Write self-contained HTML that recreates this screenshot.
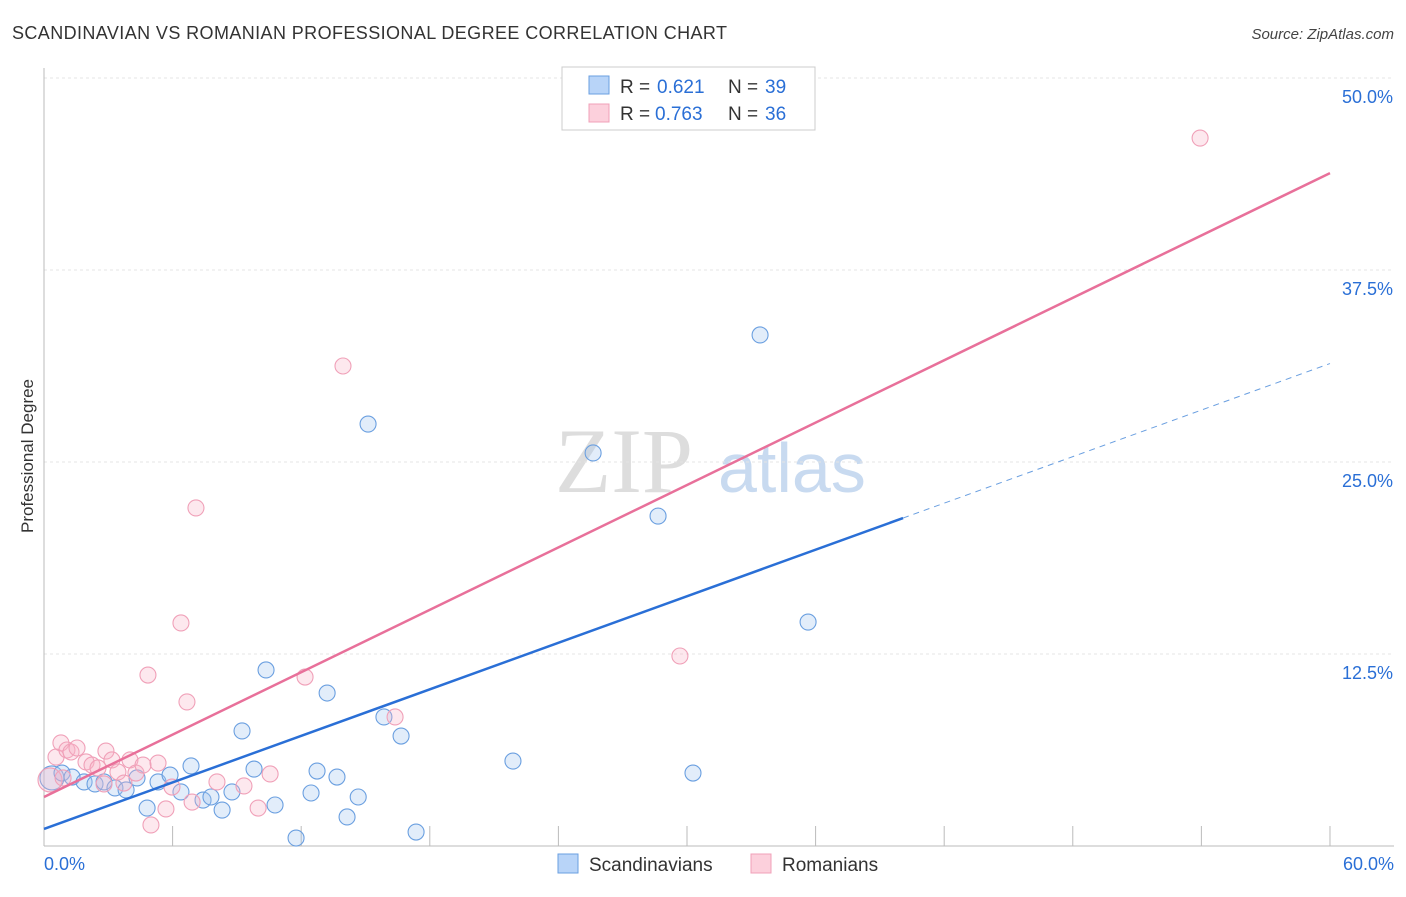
<!DOCTYPE html>
<html><head><meta charset="utf-8"><style>
body{margin:0;background:#fff;font-family:"Liberation Sans",sans-serif;}
</style></head><body>
<svg id="chart" width="1406" height="892" xmlns="http://www.w3.org/2000/svg" style="font-family:'Liberation Sans',sans-serif">
<text x="12" y="39" font-size="18" fill="#333" textLength="715">SCANDINAVIAN VS ROMANIAN PROFESSIONAL DEGREE CORRELATION CHART</text>
<text x="1394" y="39" font-size="15" fill="#444" text-anchor="end" font-style="italic">Source: ZipAtlas.com</text>
<text transform="translate(33,456) rotate(-90)" font-size="17" fill="#333" text-anchor="middle">Professional Degree</text>
<text x="555" y="492" font-size="92" fill="#ddd" font-family="Liberation Serif">ZIP</text>
<text x="718" y="492" font-size="70" fill="#c8daf0">atlas</text>
<g id="grid"></g>
<g id="marks"></g>
<g>
<rect x="562" y="67" width="253" height="63" fill="#fff" stroke="#ccc"/>
<rect x="589" y="76" width="20" height="18" fill="#b8d4f8" stroke="#6a9fe0"/>
<text x="620" y="93" font-size="19" fill="#333">R =</text>
<text x="657" y="93" font-size="19" fill="#2a6fd6">0.621</text>
<text x="728" y="93" font-size="19" fill="#333">N =</text>
<text x="765" y="93" font-size="19" fill="#2a6fd6">39</text>
<rect x="589" y="104" width="20" height="18" fill="#fcd0dc" stroke="#f0a0b8"/>
<text x="620" y="120" font-size="19" fill="#333">R =</text>
<text x="655" y="120" font-size="19" fill="#2a6fd6">0.763</text>
<text x="728" y="120" font-size="19" fill="#333">N =</text>
<text x="765" y="120" font-size="19" fill="#2a6fd6">36</text>
</g>
<g>
<rect x="558" y="854" width="20" height="19" fill="#b8d4f8" stroke="#6a9fe0"/>
<text x="589" y="871" font-size="19" fill="#333">Scandinavians</text>
<rect x="751" y="854" width="20" height="19" fill="#fcd0dc" stroke="#f0a0b8"/>
<text x="782" y="871" font-size="19" fill="#333">Romanians</text>
</g>
</svg>
<script>
const blueX=[0.37,0.84,1.31,1.87,2.38,2.80,3.31,3.83,4.34,4.81,5.32,5.88,6.39,6.86,7.42,7.79,8.31,8.77,9.24,9.80,10.36,10.78,11.76,12.46,12.74,13.21,13.67,14.14,14.66,15.12,15.86,16.66,17.36,21.88,25.62,28.65,30.28,33.41,35.65];
const blueY=[4.43,4.75,4.49,4.17,4.04,4.17,3.78,3.65,4.43,2.47,4.17,4.62,3.52,5.21,2.99,3.19,2.34,3.52,7.49,5.01,11.46,2.67,0.52,3.45,4.88,9.96,4.49,1.89,3.19,27.47,8.40,7.16,0.91,5.53,25.59,21.48,4.75,33.27,14.58];
const pinkX=[0.28,0.56,0.79,1.07,1.26,1.54,1.96,2.24,2.52,2.89,3.17,3.45,3.73,4.01,4.29,4.62,4.85,4.99,5.32,5.69,5.97,6.39,6.67,6.91,7.09,8.07,9.33,9.99,10.55,12.18,13.95,16.38,29.67,53.94,0.89,2.80];
const pinkY=[4.30,5.79,6.71,6.25,6.12,6.38,5.47,5.27,5.08,6.18,5.60,4.82,4.10,5.60,4.75,5.27,11.13,1.37,5.40,2.41,3.84,14.52,9.38,2.86,22.01,4.17,3.91,2.47,4.69,11.00,31.25,8.40,12.37,46.09,4.43,4.04];
const yTicks=[12.5,25,37.5,50];
const yTickLabels=["12.5%","25.0%","37.5%","50.0%"];
const xTicks=[6,12,18,24,30,36,42,48,54,60];
const blueLine=[1.11,0.505,40.08];
const pinkLine=[3.19,0.677];
const NS="http://www.w3.org/2000/svg";
const sx=v=>44+v*21.433, sy=v=>846-v*15.36;
function mk(t,a,p){const e=document.createElementNS(NS,t);for(const k in a)e.setAttribute(k,a[k]);p.appendChild(e);return e;}
const grid=document.getElementById('grid'), marks=document.getElementById('marks');
yTicks.forEach((t,i)=>{
 const l=mk('line',{x1:44,x2:1394,y1:sy(t),y2:sy(t),stroke:'#e4e4e4','stroke-dasharray':'3,3'},grid);
 
 
 const tx=mk('text',{x:1393,y:sy(t)+25,'font-size':18,fill:'#2a6fd6','text-anchor':'end'},grid);
 tx.textContent=yTickLabels[i];
 
 
});
const ax=mk('line',{x1:44,x2:44,y1:68,y2:846,stroke:'#bbb'},grid);


const bx=mk('line',{x1:44,x2:1394,y1:846,y2:846,stroke:'#bbb'},grid);


xTicks.forEach(t=>{const l=mk('line',{x1:sx(t),x2:sx(t),y1:826,y2:846,stroke:'#bbb'},grid);
 
 });
let t0=mk('text',{x:44,y:870,'font-size':18,fill:'#2a6fd6'},grid);t0.textContent='0.0%';


let t1=mk('text',{x:1394,y:870,'font-size':18,fill:'#2a6fd6','text-anchor':'end'},grid);t1.textContent='60.0%';


blueX.forEach((x,i)=>{const c=mk('circle',{cx:sx(x),cy:sy(blueY[i]),r:i==0?12:8,fill:'rgba(160,196,240,0.3)',stroke:'#6a9fe0','stroke-width':1.1},marks);
 
 });
pinkX.forEach((x,i)=>{const c=mk('circle',{cx:sx(x),cy:sy(pinkY[i]),r:i==0?12:8,fill:'rgba(248,180,200,0.3)',stroke:'#f0a0b8','stroke-width':1.1},marks);
 
 });
const bl=mk('line',{x1:sx(0),y1:sy(blueLine[0]),x2:sx(blueLine[2]),y2:sy(blueLine[0]+blueLine[1]*blueLine[2]),stroke:'#2a6fd6','stroke-width':2.5},marks);


const bd=mk('line',{x1:sx(blueLine[2]),y1:sy(blueLine[0]+blueLine[1]*blueLine[2]),x2:sx(60),y2:sy(blueLine[0]+blueLine[1]*60),stroke:'#6a9fe0','stroke-width':1,'stroke-dasharray':'6,5'},marks);


const pl=mk('line',{x1:sx(0),y1:sy(pinkLine[0]),x2:sx(60),y2:sy(pinkLine[0]+pinkLine[1]*60),stroke:'#e8709a','stroke-width':2.5},marks);


</script>
</body></html>
